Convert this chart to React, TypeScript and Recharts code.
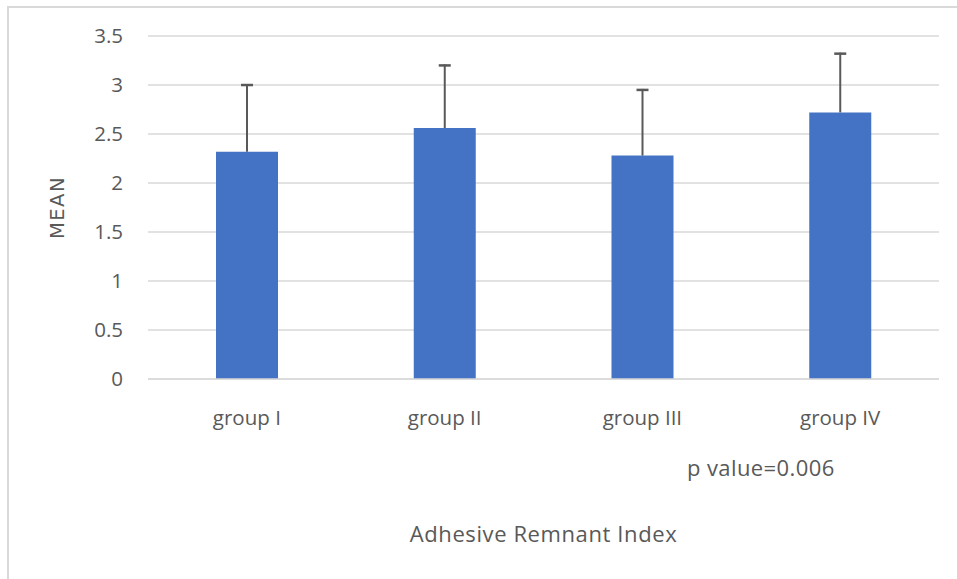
import React from 'react';
import { BarChart, Bar, XAxis, YAxis, CartesianGrid, Label } from 'recharts';

const categories = ['group I', 'group II', 'group III', 'group IV'];
const means = [2.32, 2.56, 2.28, 2.72];
const upperErrors = [0.69, 0.65, 0.68, 0.61];
const yTicks = [0, 0.5, 1, 1.5, 2, 2.5, 3, 3.5];
const yAxisTitle = 'MEAN';
const xAxisTitle = 'Adhesive Remnant Index';
const pValueNote = 'p value=0.006';

const data = categories.map((name, i) => ({ name, mean: means[i], err: upperErrors[i] }));

const TEXT = '#595959';
const FONT = "'Open Sans', sans-serif";

const XTick = (p: any) => (
  <text x={p.x} y={p.y + 46} textAnchor="middle" fill={TEXT} fontFamily={FONT} fontSize={20.5}>
    {p.payload.value}
  </text>
);

const YTick = (p: any) => (
  <text x={p.x - 25} y={p.y} dy="0.36em" textAnchor="end" fill={TEXT} fontFamily={FONT} fontSize={20.5}>
    {p.payload.value}
  </text>
);

const ErrShape = (p: any) => {
  const { x, y, width, height } = p;
  if (x == null || y == null) return null;
  const cx = x + width / 2;
  return (
    <g>
      <line x1={cx} x2={cx} y1={y + height} y2={y} stroke="#595959" strokeWidth={2} />
      <line x1={cx - 6} x2={cx + 6} y1={y + 1} y2={y + 1} stroke="#595959" strokeWidth={2.5} />
    </g>
  );
};

export default function App() {
  return (
    <div style={{ position: 'absolute', left: 0, top: 0, width: 957, height: 579, overflow: 'hidden', background: '#fff' }}>
      <div
        style={{
          position: 'absolute',
          left: 7,
          top: 6,
          width: 950,
          height: 573,
          borderTop: '2px solid #d9d9d9',
          borderLeft: '2px solid #d9d9d9',
          boxSizing: 'border-box',
        }}
      />
      <div style={{ position: 'absolute', left: 0, top: 0 }}>
        <BarChart width={957} height={579} data={data} margin={{ top: 36, right: 18, bottom: 160, left: 0 }} barSize={62}>
          <CartesianGrid horizontal vertical={false} stroke="#d9d9d9" strokeWidth={1.5} />
          <XAxis
            dataKey="name"
            height={40}
            tickLine={false}
            tickSize={0}
            tickMargin={0}
            interval={0}
            axisLine={{ stroke: '#d9d9d9', strokeWidth: 1.5 }}
            tick={<XTick />}
          >
            <Label
              content={(props: any) => {
                const vb = props.viewBox || { x: 148, y: 379, width: 791 };
                return (
                  <g>
                    <text x={vb.x + 539} y={vb.y + 97} fill={TEXT} fontFamily={FONT} fontSize={22} letterSpacing={0.4}>
                      {pValueNote}
                    </text>
                    <text x={vb.x + vb.width / 2} y={vb.y + 163} textAnchor="middle" fill={TEXT} fontFamily={FONT} fontSize={22} letterSpacing={0.6}>
                      {xAxisTitle}
                    </text>
                  </g>
                );
              }}
            />
          </XAxis>
          <YAxis
            width={148}
            domain={[0, 3.5]}
            ticks={yTicks}
            interval={0}
            tickLine={false}
            tickSize={0}
            tickMargin={0}
            axisLine={false}
            tick={<YTick />}
          >
            <Label
              content={(props: any) => {
                const vb = props.viewBox || { x: 0, y: 36, width: 148, height: 343 };
                const cx = vb.x + 57;
                const cy = vb.y + vb.height / 2;
                return (
                  <text
                    x={cx}
                    y={cy}
                    dy="0.36em"
                    textAnchor="middle"
                    transform={`rotate(-90, ${cx}, ${cy})`}
                    fill={TEXT}
                    fontFamily="'DejaVu Sans', sans-serif"
                    fontSize={19.5}
                    letterSpacing={1.5}
                  >
                    {yAxisTitle}
                  </text>
                );
              }}
            />
          </YAxis>
          <Bar dataKey="mean" stackId="a" fill="#4472C4" isAnimationActive={false} />
          <Bar dataKey="err" stackId="a" fill="none" shape={<ErrShape />} isAnimationActive={false} />
        </BarChart>
      </div>
    </div>
  );
}
